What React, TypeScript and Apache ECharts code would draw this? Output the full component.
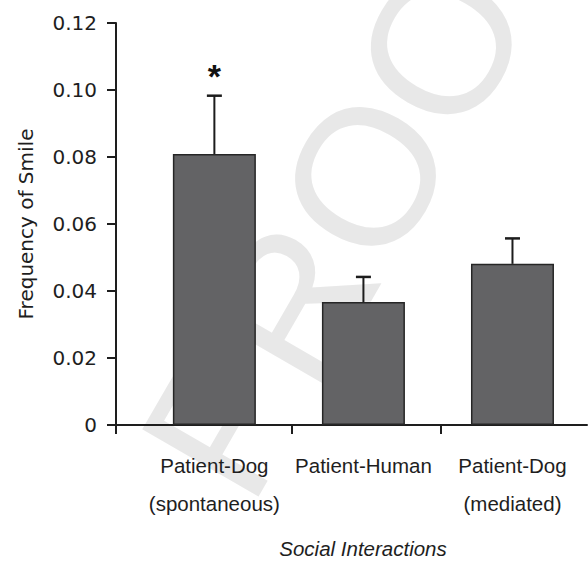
import React, { useEffect, useRef } from "react";
import * as echarts from "echarts";

const categories = ["Patient-Dog\n(spontaneous)", "Patient-Human", "Patient-Dog\n(mediated)"];
const positions = [0, 1, 2];
const means = [0.0809, 0.0367, 0.0481];
const errors = [0.0174, 0.0075, 0.0076];
const significance = ["*", "", ""];
const xTickValues = [-0.66, 0.52, 1.52];
const yTickMin = 0;
const yTickMax = 0.12;
const yTickStep = 0.02;

export default function App() {
  const ref = useRef<HTMLDivElement>(null);
  useEffect(() => {
    document.body.style.margin = "0";
    if (!ref.current) return;
    const chart = echarts.init(ref.current, null, { renderer: "svg" });
    const ink = "#1e1e1e";
    chart.setOption({
      animation: false,
      backgroundColor: "#ffffff",
      graphic: [
        {
          type: "text",
          z: -10,
          silent: true,
          x: 365,
          y: 176,
          rotation: (60 * Math.PI) / 180,
          style: {
            text: "PROOF",
            fontSize: 195,
            fontWeight: "normal",
            fontFamily: "Liberation Sans",
            fill: "#e8e8e8",
            align: "center",
            verticalAlign: "middle",
          },
        },
      ],
      grid: { left: 116, right: 1, top: 23, bottom: 141, containLabel: false },
      xAxis: {
        type: "value",
        min: xTickValues[0],
        max: 2.5,
        name: "Social Interactions",
        nameLocation: "middle",
        nameGap: 113,
        nameTextStyle: {
          fontFamily: "Liberation Sans",
          fontStyle: "italic",
          fontSize: 20.5,
          color: ink,
          padding: [0, 0, 0, 23],
        },
        axisLine: { show: true, onZero: false, lineStyle: { color: ink, width: 2 } },
        axisTick: { show: true, length: 9, inside: false, customValues: xTickValues, lineStyle: { color: ink, width: 2 } },
        axisLabel: {
          show: true,
          customValues: positions,
          formatter: (v: number) => categories[Math.round(v)] ?? "",
          fontFamily: "Liberation Sans",
          fontSize: 20.5,
          color: ink,
          lineHeight: 38,
          margin: 21,
        },
        splitLine: { show: false },
      },
      yAxis: {
        type: "value",
        min: yTickMin,
        max: yTickMax,
        interval: yTickStep,
        name: "Frequency of Smile",
        nameLocation: "middle",
        nameGap: 80,
        nameTextStyle: { fontFamily: "DejaVu Sans", fontSize: 20, color: ink },
        axisLine: { show: true, onZero: false, lineStyle: { color: ink, width: 2 } },
        axisTick: { show: true, length: 9, inside: false, lineStyle: { color: ink, width: 2 } },
        axisLabel: {
          fontFamily: "DejaVu Sans",
          fontSize: 20,
          color: ink,
          margin: 19,
          formatter: (v: number) => (v === 0 ? "0" : v.toFixed(2)),
        },
        splitLine: { show: false },
      },
      series: [
        {
          type: "bar",
          data: positions.map((x, i) => [x, means[i]]),
          barWidth: 83,
          itemStyle: { color: "#636365", borderColor: "#262626", borderWidth: 1.5 },
          z: 2,
        },
        {
          type: "custom",
          encode: { x: 0, y: 1 },
          data: positions.map((x, i) => [x, means[i], errors[i], i]),
          z: 3,
          renderItem: (params: any, api: any) => {
            const x = api.value(0);
            const m = api.value(1);
            const e = api.value(2);
            const idx = api.value(3);
            const base = api.coord([x, m]);
            const top = api.coord([x, m + e]);
            const half = 7.5;
            const children: any[] = [
              {
                type: "line",
                shape: { x1: base[0], y1: base[1], x2: top[0], y2: top[1] },
                style: { stroke: "#1c1c1c", lineWidth: 2 },
              },
              {
                type: "line",
                shape: { x1: top[0] - half, y1: top[1], x2: top[0] + half, y2: top[1] },
                style: { stroke: "#1c1c1c", lineWidth: 2.5 },
              },
            ];
            const mark = significance[idx];
            if (mark) {
              children.push({
                type: "text",
                x: top[0],
                y: top[1] - 20,
                style: {
                  text: mark,
                  fontSize: 34,
                  fontWeight: "bold",
                  fontFamily: "Liberation Sans",
                  fill: "#111111",
                  align: "center",
                  verticalAlign: "middle",
                },
              });
            }
            return { type: "group", children };
          },
        },
      ],
    });
    return () => chart.dispose();
  }, []);
  return <div ref={ref} style={{ width: 588, height: 566 }} />;
}
